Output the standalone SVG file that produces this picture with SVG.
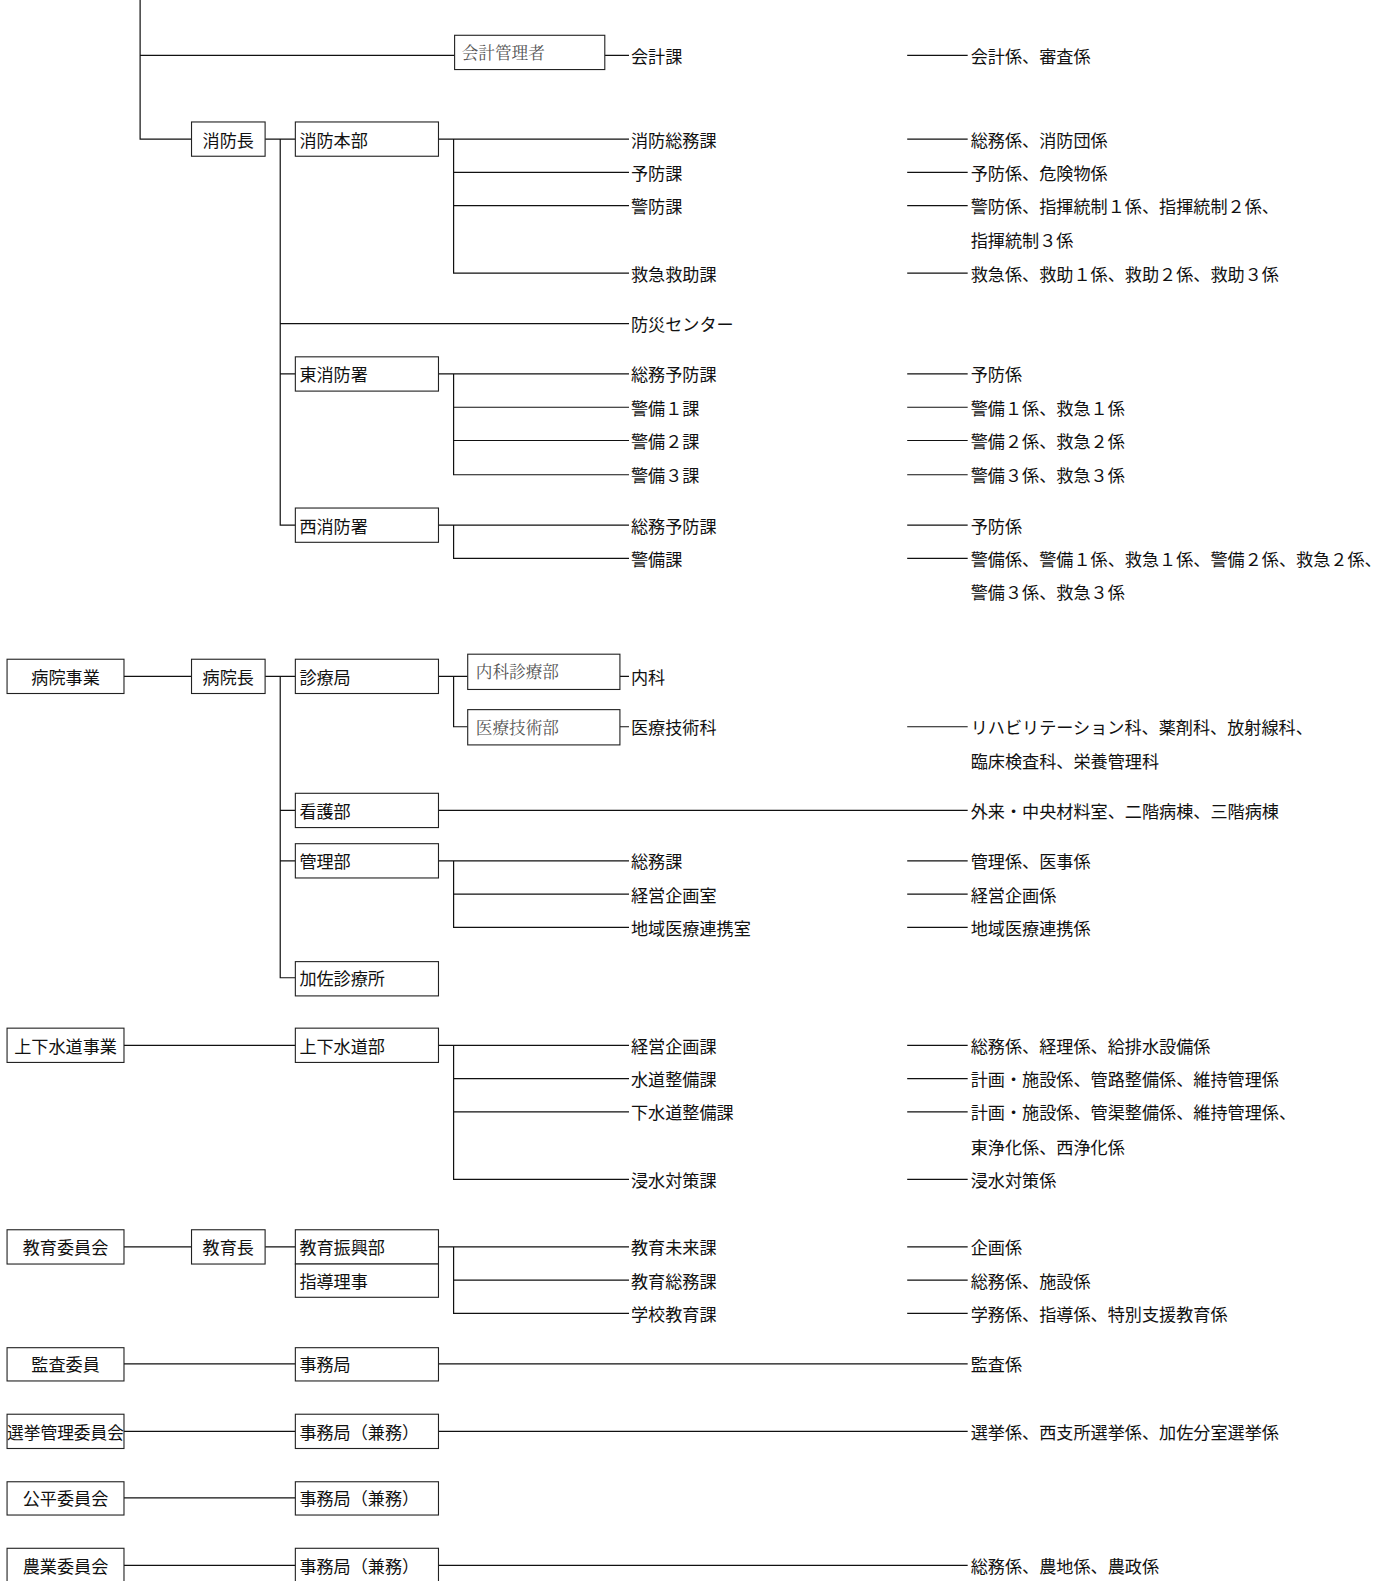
<svg xmlns="http://www.w3.org/2000/svg" width="1387" height="1581" viewBox="0 0 1387 1581">
<style>
text{font-family:"Noto Sans CJK JP","Noto Sans",sans-serif;font-size:17px;fill:#111;dominant-baseline:central}
.c{text-anchor:middle}
.m{font-family:"Noto Serif CJK JP","Noto Sans CJK JP",serif;fill:#555;font-size:16.5px}
rect{fill:#fff;stroke:#222;stroke-width:1.1}
#connectors path{fill:none;stroke:#111;stroke-width:1.2}
</style>
<rect x="0" y="0" width="1387" height="1581" style="fill:#fff;stroke:none"/>
<g transform="scale(1.008)">
<g id="connectors">
<path d="M139 0V138H190M139 55H451M600 55H624M900 55H960"/>
<path d="M263 138H293M278 138V521H293M278 321H624M278 371H293"/>
<path d="M435 138H624M450 138V271H624M450 171H624M450 204H624"/>
<path d="M900 138H960M900 171H960M900 204H960M900 271H960"/>
<path d="M435 371H624M450 371V471H624M450 404H624M450 437H624"/>
<path d="M900 371H960M900 404H960M900 437H960M900 471H960"/>
<path d="M435 521H624M450 521V554H624M900 521H960M900 554H960"/>
<path d="M123 671H190M263 671H293M278 671V970H293M278 804H293M278 854H293"/>
<path d="M435 671H464M450 671V721H464M615 671H624M615 721H624M900 721H960"/>
<path d="M435 804H960"/>
<path d="M435 854H624M450 854V920H624M450 887H624M900 854H960M900 887H960M900 920H960"/>
<path d="M123 1037H293M435 1037H624M450 1037V1170H624M450 1070H624M450 1103H624"/>
<path d="M900 1037H960M900 1070H960M900 1103H960M900 1170H960"/>
<path d="M123 1237H190M263 1237H293M435 1237H624M450 1237V1303H624M450 1270H624"/>
<path d="M900 1237H960M900 1270H960M900 1303H960"/>
<path d="M123 1353H293M435 1353H960"/>
<path d="M123 1420H293M435 1420H960"/>
<path d="M123 1486H293"/>
<path d="M123 1553H293M435 1553H960"/>
</g>

<g id="kaikei-kanrisha"><rect x="451" y="35" width="149" height="34"/><text class="m" x="458" y="52">会計管理者</text></g>
<g id="kaikei-ka"><text x="626" y="55">会計課</text><text x="963" y="55">会計係、審査係</text></g>

<g id="shobocho"><rect x="190" y="121" width="73" height="34"/><text class="c" x="226.5" y="138">消防長</text></g>
<g id="shobo-honbu"><rect x="293" y="121" width="142" height="34"/><text x="297" y="138">消防本部</text></g>
<g id="honbu-ka">
<text x="626" y="138">消防総務課</text><text x="626" y="171">予防課</text><text x="626" y="204">警防課</text><text x="626" y="271">救急救助課</text>
<text x="963" y="138">総務係、消防団係</text><text x="963" y="171">予防係、危険物係</text>
<text x="963" y="204">警防係、指揮統制１係、指揮統制２係、</text><text x="963" y="238">指揮統制３係</text>
<text x="963" y="271">救急係、救助１係、救助２係、救助３係</text>
</g>
<g id="bosai"><text x="626" y="321">防災センター</text></g>
<g id="higashi"><rect x="293" y="354" width="142" height="34"/><text x="297" y="371">東消防署</text></g>
<g id="higashi-ka">
<text x="626" y="371">総務予防課</text><text x="626" y="404">警備１課</text><text x="626" y="437">警備２課</text><text x="626" y="471">警備３課</text>
<text x="963" y="371">予防係</text><text x="963" y="404">警備１係、救急１係</text><text x="963" y="437">警備２係、救急２係</text><text x="963" y="471">警備３係、救急３係</text>
</g>
<g id="nishi"><rect x="293" y="504" width="142" height="34"/><text x="297" y="521">西消防署</text></g>
<g id="nishi-ka">
<text x="626" y="521">総務予防課</text><text x="626" y="554">警備課</text>
<text x="963" y="521">予防係</text><text x="963" y="554">警備係、警備１係、救急１係、警備２係、救急２係、</text><text x="963" y="587">警備３係、救急３係</text>
</g>

<g id="byoin-jigyo"><rect x="7" y="654" width="116" height="34"/><text class="c" x="65" y="671">病院事業</text></g>
<g id="byoincho"><rect x="190" y="654" width="73" height="34"/><text class="c" x="226.5" y="671">病院長</text></g>
<g id="shinryokyoku"><rect x="293" y="654" width="142" height="34"/><text x="297" y="671">診療局</text></g>
<g id="naika-bu"><rect x="464" y="649" width="151" height="35"/><text class="m" x="472" y="666">内科診療部</text></g>
<g id="naika"><text x="626" y="671">内科</text></g>
<g id="iryo-bu"><rect x="464" y="704" width="151" height="35"/><text class="m" x="472" y="721">医療技術部</text></g>
<g id="iryo-ka"><text x="626" y="721">医療技術科</text><text x="963" y="721">リハビリテーション科、薬剤科、放射線科、</text><text x="963" y="754">臨床検査科、栄養管理科</text></g>
<g id="kango"><rect x="293" y="787" width="142" height="34"/><text x="297" y="804">看護部</text><text x="963" y="804">外来・中央材料室、二階病棟、三階病棟</text></g>
<g id="kanri"><rect x="293" y="837" width="142" height="34"/><text x="297" y="854">管理部</text></g>
<g id="kanri-ka">
<text x="626" y="854">総務課</text><text x="626" y="887">経営企画室</text><text x="626" y="920">地域医療連携室</text>
<text x="963" y="854">管理係、医事係</text><text x="963" y="887">経営企画係</text><text x="963" y="920">地域医療連携係</text>
</g>
<g id="kasa"><rect x="293" y="954" width="142" height="34"/><text x="297" y="970">加佐診療所</text></g>

<g id="suido-jigyo"><rect x="7" y="1020" width="116" height="34"/><text class="c" x="65" y="1037">上下水道事業</text></g>
<g id="suido-bu"><rect x="293" y="1020" width="142" height="34"/><text x="297" y="1037">上下水道部</text></g>
<g id="suido-ka">
<text x="626" y="1037">経営企画課</text><text x="626" y="1070">水道整備課</text><text x="626" y="1103">下水道整備課</text><text x="626" y="1170">浸水対策課</text>
<text x="963" y="1037">総務係、経理係、給排水設備係</text><text x="963" y="1070">計画・施設係、管路整備係、維持管理係</text>
<text x="963" y="1103">計画・施設係、管渠整備係、維持管理係、</text><text x="963" y="1137">東浄化係、西浄化係</text>
<text x="963" y="1170">浸水対策係</text>
</g>

<g id="kyoiku-iinkai"><rect x="7" y="1220" width="116" height="34"/><text class="c" x="65" y="1237">教育委員会</text></g>
<g id="kyoikucho"><rect x="190" y="1220" width="73" height="34"/><text class="c" x="226.5" y="1237">教育長</text></g>
<g id="kyoiku-shinko"><rect x="293" y="1220" width="142" height="34"/><text x="297" y="1237">教育振興部</text></g>
<g id="shido-riji"><rect x="293" y="1254" width="142" height="33"/><text x="297" y="1270">指導理事</text></g>
<g id="kyoiku-ka">
<text x="626" y="1237">教育未来課</text><text x="626" y="1270">教育総務課</text><text x="626" y="1303">学校教育課</text>
<text x="963" y="1237">企画係</text><text x="963" y="1270">総務係、施設係</text><text x="963" y="1303">学務係、指導係、特別支援教育係</text>
</g>

<g id="kansa"><rect x="7" y="1337" width="116" height="33"/><text class="c" x="65" y="1353">監査委員</text></g>
<g id="kansa-jimu"><rect x="293" y="1337" width="142" height="33"/><text x="297" y="1353">事務局</text><text x="963" y="1353">監査係</text></g>

<g id="senkyo"><rect x="7" y="1403" width="116" height="34"/><text class="c" x="65" y="1420" textLength="116" lengthAdjust="spacingAndGlyphs">選挙管理委員会</text></g>
<g id="senkyo-jimu"><rect x="293" y="1403" width="142" height="34"/><text x="297" y="1420">事務局（兼務）</text><text x="963" y="1420">選挙係、西支所選挙係、加佐分室選挙係</text></g>

<g id="kohei"><rect x="7" y="1470" width="116" height="33"/><text class="c" x="65" y="1486">公平委員会</text></g>
<g id="kohei-jimu"><rect x="293" y="1470" width="142" height="33"/><text x="297" y="1486">事務局（兼務）</text></g>

<g id="nogyo"><rect x="7" y="1536" width="116" height="34"/><text class="c" x="65" y="1553">農業委員会</text></g>
<g id="nogyo-jimu"><rect x="293" y="1536" width="142" height="34"/><text x="297" y="1553">事務局（兼務）</text><text x="963" y="1553">総務係、農地係、農政係</text></g>
</g>
</svg>
